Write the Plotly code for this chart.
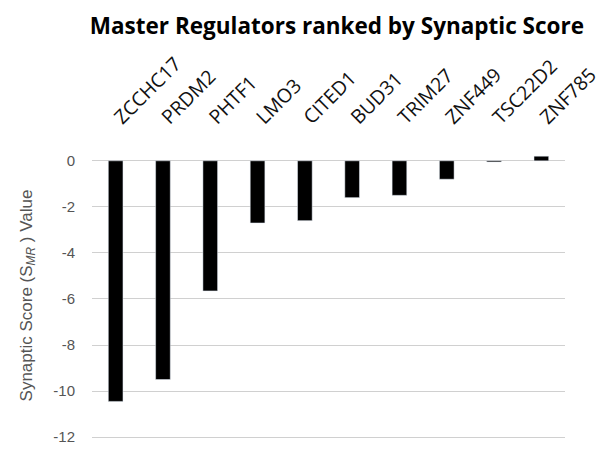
import plotly.graph_objects as go

categories = ["ZCCHC17", "PRDM2", "PHTF1", "LMO3", "CITED1", "BUD31", "TRIM27", "ZNF449", "TSC22D2", "ZNF785"]
scores = [-10.45, -9.5, -5.65, -2.7, -2.6, -1.6, -1.5, -0.8, -0.05, 0.2]
y_ticks = [0, -2, -4, -6, -8, -10, -12]

fig = go.Figure(go.Bar(x=categories, y=scores, marker_color="black", width=0.31))

# page body has an 8px margin; size the figure to fit the 606x449 window
fig.update_layout(
    width=598, height=441,
    margin=dict(l=84, r=41, t=139, b=5),
    plot_bgcolor="white", paper_bgcolor="white",
    showlegend=False,
    title=dict(text="<b>Master Regulators ranked by Synaptic Score</b>",
               font=dict(family="Open Sans", size=22.5, color="black"),
               x=0.55, xanchor="center", y=0.958, yanchor="middle"),
)
fig.update_xaxes(side="top", tickangle=-45, showgrid=False, showline=False,
                 tickfont=dict(family="Open Sans", size=19.5, color="#111111"),
                 ticks="outside", ticklen=11, tickcolor="white",
                 anchor="free", position=1.0)
fig.update_yaxes(range=[-12.3, 0.6], tickvals=y_ticks, ticktext=[str(v) for v in y_ticks],
                 showgrid=True, gridcolor="#d0d0d0", gridwidth=1, zeroline=False,
                 tickfont=dict(family="Liberation Sans", size=15, color="#555555"),
                 ticks="outside", ticklen=13, tickcolor="white",
                 title=dict(text="Synaptic Score (S<sub><i>MR</i></sub> ) Value",
                            font=dict(family="Liberation Sans", size=17, color="#555555"),
                            standoff=16))

fig.write_html("out.html")
